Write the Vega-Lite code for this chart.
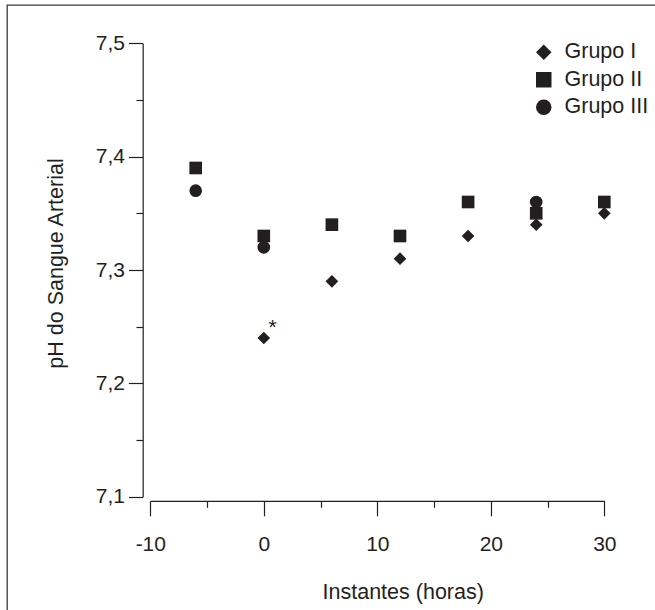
{
  "$schema": "https://vega.github.io/schema/vega-lite/v6.json",
  "width": 660,
  "height": 620,
  "autosize": {"type": "none"},
  "padding": {"left": 7, "top": 5, "right": 0, "bottom": 0},
  "background": "white",
  "config": {
    "view": {"stroke": "#3a3a3a", "strokeWidth": 1.3},
    "font": "Liberation Sans",
    "axis": {
      "grid": false,
      "domainColor": "#231f20",
      "tickColor": "#231f20",
      "domainWidth": 1.2,
      "tickWidth": 1.2,
      "labelColor": "#231f20",
      "titleColor": "#231f20",
      "labelFont": "Liberation Sans",
      "titleFont": "Liberation Sans",
      "labelFontSize": 21,
      "titleFontSize": 21.5,
      "titleFontWeight": "normal",
      "labelFlush": false,
      "labelOverlap": false
    }
  },
  "datasets": {
    "ph": [
      {"instante": -6, "ph": 7.39, "grupo": "Grupo II"},
      {"instante": -6, "ph": 7.37, "grupo": "Grupo III"},
      {"instante": 0, "ph": 7.24, "grupo": "Grupo I"},
      {"instante": 0, "ph": 7.33, "grupo": "Grupo II"},
      {"instante": 0, "ph": 7.32, "grupo": "Grupo III"},
      {"instante": 6, "ph": 7.29, "grupo": "Grupo I"},
      {"instante": 6, "ph": 7.34, "grupo": "Grupo II"},
      {"instante": 12, "ph": 7.31, "grupo": "Grupo I"},
      {"instante": 12, "ph": 7.33, "grupo": "Grupo II"},
      {"instante": 18, "ph": 7.33, "grupo": "Grupo I"},
      {"instante": 18, "ph": 7.36, "grupo": "Grupo II"},
      {"instante": 24, "ph": 7.34, "grupo": "Grupo I"},
      {"instante": 24, "ph": 7.35, "grupo": "Grupo II"},
      {"instante": 24, "ph": 7.36, "grupo": "Grupo III"},
      {"instante": 30, "ph": 7.35, "grupo": "Grupo I"},
      {"instante": 30, "ph": 7.36, "grupo": "Grupo II"}
    ],
    "notas": [
      {"instante": 0, "ph": 7.24, "marca": "*"}
    ]
  },
  "layer": [
    {
      "data": {"name": "ph"},
      "mark": {"type": "point", "filled": true, "size": 160, "opacity": 1, "color": "#231f20", "strokeWidth": 0},
      "encoding": {
        "x": {
          "field": "instante",
          "type": "quantitative",
          "scale": {"domain": [-10, 30], "range": [143.3, 597.3], "nice": false, "zero": false},
          "axis": {
            "orient": "bottom",
            "offset": -124.2,
            "values": [-10, 0, 10, 20, 30],
            "tickSize": 15,
            "labelPadding": 18,
            "labelExpr": "replace(datum.label, '−', '-')",
            "title": "Instantes (horas)",
            "titleX": 395.7,
            "titleY": 97.3,
            "titleBaseline": "alphabetic",
            "titleAlign": "center"
          }
        },
        "y": {
          "field": "ph",
          "type": "quantitative",
          "scale": {"domain": [7.1, 7.5], "range": [491.7, 38.3], "nice": false, "zero": false},
          "axis": {
            "orient": "left",
            "offset": -135.7,
            "values": [7.1, 7.2, 7.3, 7.4, 7.5],
            "tickSize": 14.3,
            "labelPadding": 4,
            "labelExpr": "replace(format(datum.value, '.1f'), '.', ',')",
            "title": "pH do Sangue Arterial",
            "titleAngle": 270,
            "titleX": -80.6,
            "titleY": 258,
            "titleBaseline": "alphabetic",
            "titleAlign": "center"
          }
        },
        "shape": {
          "field": "grupo",
          "type": "nominal",
          "scale": {"domain": ["Grupo I", "Grupo II", "Grupo III"], "range": ["diamond", "square", "circle"]},
          "legend": {
            "title": null,
            "orient": "none",
            "legendX": 526,
            "legendY": 36.5,
            "labelFontSize": 21.5,
            "labelFont": "Liberation Sans",
            "labelColor": "#231f20",
            "symbolSize": 240,
            "symbolFillColor": "#231f20",
            "symbolStrokeWidth": 0,
            "labelOffset": 10,
            "rowPadding": 4.5
          }
        }
      }
    },
    {
      "data": {"name": "notas"},
      "mark": {"type": "text", "dx": 8.7, "dy": -4, "fontSize": 21, "baseline": "alphabetic", "align": "center", "color": "#231f20", "font": "Liberation Sans"},
      "encoding": {
        "x": {
          "field": "instante",
          "type": "quantitative",
          "axis": {
            "orient": "bottom",
            "offset": -124.2,
            "values": [-5, 5, 15, 25],
            "tickSize": 6.5,
            "labels": false,
            "domain": false,
            "title": null
          }
        },
        "y": {
          "field": "ph",
          "type": "quantitative",
          "axis": {
            "orient": "left",
            "offset": -135.7,
            "values": [7.15, 7.25, 7.35, 7.45],
            "tickSize": 6.7,
            "labels": false,
            "domain": false,
            "title": null
          }
        },
        "text": {"field": "marca"}
      }
    }
  ],
  "resolve": {"axis": {"x": "independent", "y": "independent"}}
}
